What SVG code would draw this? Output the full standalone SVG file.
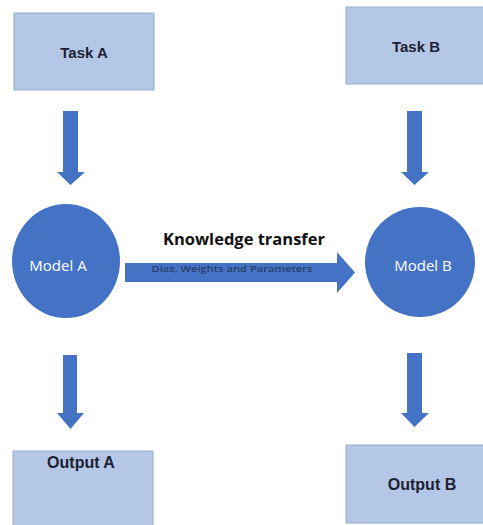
<svg xmlns="http://www.w3.org/2000/svg" width="483" height="525" viewBox="0 0 483 525">
  <style>
    .box { fill: #b4c7e7; stroke: #9aabc8; stroke-width: 1; }
    .blue { fill: #4472c4; }
    .label { font-family: "Liberation Sans", Arial, sans-serif; font-weight: bold; font-size: 15px; fill: #1c2233; text-anchor: middle; }
    .out { font-size: 16px; }
    .model { font-family: "Open Sans", "Liberation Sans", sans-serif; font-size: 15px; fill: #ffffff; text-anchor: middle; }
    .title { font-family: "Open Sans", "Liberation Sans", sans-serif; font-weight: bold; font-size: 16.5px; fill: #111111; text-anchor: middle; }
    .sub { font-family: "Open Sans", "Liberation Sans", sans-serif; font-weight: 600; font-size: 9px; fill: #27406e; text-anchor: middle; }
  </style>
  <rect width="483" height="525" fill="#ffffff"/>

  <g id="task-a">
    <rect class="box" x="14" y="13" width="140" height="77"/>
    <text class="label" x="84" y="58">Task A</text>
  </g>
  <g id="task-b">
    <rect class="box" x="346" y="7" width="140" height="77"/>
    <text class="label" x="416" y="52">Task B</text>
  </g>
  <g id="model-a">
    <ellipse class="blue" cx="66" cy="261" rx="54" ry="57"/>
    <text class="model" x="58" y="271">Model A</text>
  </g>
  <g id="model-b">
    <circle class="blue" cx="420" cy="262" r="55"/>
    <text class="model" x="423" y="271">Model B</text>
  </g>
  <g id="output-a">
    <rect class="box" x="13" y="451" width="140" height="80"/>
    <text class="label out" x="81" y="468">Output A</text>
  </g>
  <g id="output-b">
    <rect class="box" x="346" y="445" width="140" height="78"/>
    <text class="label out" x="422" y="490">Output B</text>
  </g>

  <g id="connectors">
    <polygon class="blue" points="63,111 78,111 78,172 85,172 70.5,185 57,172 63,172"/>
    <polygon class="blue" points="407,111 422,111 422,172 429,172 414.5,185 401,172 407,172"/>
    <polygon class="blue" points="63,355 77,355 77,413 84,413 70.5,429 57,413 63,413"/>
    <polygon class="blue" points="407,353 422,353 422,413 429,413 414.5,427 401,413 407,413"/>
    <polygon class="blue" points="125,263 337,263 337,252 355,272.5 337,293 337,282 125,282"/>
    <text class="title" x="244" y="245">Knowledge transfer</text>
    <text class="sub" x="232" y="272" textLength="161" lengthAdjust="spacingAndGlyphs">Dias, Weights and Parameters</text>
  </g>
</svg>
